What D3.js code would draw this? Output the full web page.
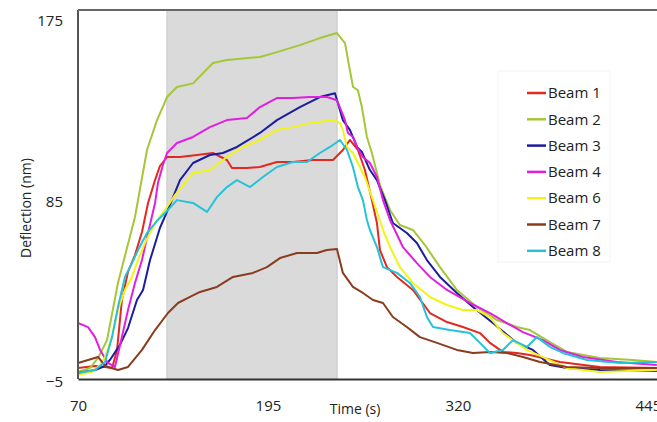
<!DOCTYPE html>
<html>
<head>
<meta charset="utf-8">
<script src="https://cdn.jsdelivr.net/npm/d3@7"></script>
<style>
  body { margin: 0; background: #fff; }
  svg { display: block; font-family: "Open Sans", sans-serif; }
</style>
</head>
<body>
<div id="chart"></div>
<script>
// Beam deflection over time, load window shaded
const beamNames = ["Beam 1", "Beam 2", "Beam 3", "Beam 4", "Beam 6", "Beam 7", "Beam 8"];
const beamColors = ["#e3291f", "#a6c63a", "#1d1b9e", "#e01fe0", "#f3f318", "#8a3c1e", "#26c2d8"];
const xTicks = [70, 195, 320, 445];
const yTicks = [-5, 85, 175];
const loadWindow = [128.5, 240.5];

// [time (s), deflection (nm)]
const beam1 = [[70,0.5],[81.2,1.5],[87.8,1],[92.4,0.5],[95.7,9.5],[98.9,34.4],[102.9,48.4],[107.5,56.8],[112.1,68.3],[116.1,82.8],[120.7,94.2],[123.9,101.2],[128.6,105.7],[137.1,105.7],[148.3,106.7],[158.8,107.7],[168,104.2],[171.3,100.2],[181.2,100.2],[189.7,100.7],[200.9,103.2],[211.4,103.2],[224.6,104.2],[237.8,104.2],[244.3,109.2],[248.9,114.2],[254.2,109.2],[258.8,99.2],[263.4,84.2],[266.7,72.8],[268.7,59.3],[273.3,50.8],[279.9,45.9],[290.4,39.4],[301.6,27.9],[312.8,23.4],[323.3,20.9],[334.5,17.9],[341.1,13],[349.6,8.5],[358.8,8],[367.4,7],[387.1,3.5],[413.4,1],[450.9,0.5]];
const beam2 = [[70,-1.5],[77.9,0.5],[83.2,5.5],[89.1,14.4],[96.3,42.9],[107.5,75.8],[115.4,109.2],[122,124.1],[128.6,135.6],[135.1,140.6],[145.7,142.4],[158.8,152.6],[168,154.1],[189.7,155.6],[200.9,158],[216,161.5],[229.2,165],[240.4,167.5],[245.7,162.5],[248.9,149],[251,140.6],[254.2,139],[256.8,130.6],[260.1,115.7],[263.4,107.7],[268.7,91.7],[275.3,79.3],[281.8,71.8],[290.4,69.3],[298.3,61.8],[308.2,50.8],[319.3,39.4],[332.5,30.9],[345.7,24.4],[358.8,20.9],[367.4,19.4],[380.5,13.4],[391.7,8.5],[413.4,5.5],[435.1,4.5],[450.9,3.5]];
const beam3 = [[70,-2],[81.2,-0.5],[87.8,1.5],[91,4.5],[97.6,12],[102.9,20.4],[108.8,34.4],[112.8,39.4],[117.4,54.3],[123.9,70.3],[130.5,81.8],[137.1,94.2],[145.7,102.7],[156.8,106.7],[165.4,107.7],[174.6,110.7],[189.7,117.7],[200.9,124.1],[216,130.6],[229.2,135.6],[239.1,137.5],[244.3,124.1],[248.9,119.2],[253.6,110.7],[256.8,108.2],[262.1,99.2],[266.7,94.2],[272,84.2],[277.2,72.8],[286.4,67.8],[293,62.8],[299.6,54.3],[308.2,45.9],[319.3,37.9],[329.9,30.9],[343,22.9],[358.8,13],[369.3,9.5],[380.5,2],[391.7,0.5],[413.4,-0.5],[450.9,-1]];
const beam4 = [[70,22.9],[76.6,20.9],[81.2,15.9],[84.5,9.5],[89.7,3],[94.3,1],[98.9,15.9],[102.9,29.4],[107.5,42.9],[112.1,54.3],[116.1,67.8],[120.7,82.8],[122.6,92.7],[125.9,101.7],[128.6,107.7],[135.1,112.7],[145.7,115.7],[156.8,120.6],[168,124.1],[181.2,125.1],[189.7,130.6],[200.9,135.1],[211.4,135.1],[222.6,135.6],[233.8,135.6],[240.4,134],[245.7,124.1],[247.6,117.7],[251,115.7],[253.6,110.7],[257.5,105.7],[262.1,102.7],[266.7,95.7],[270.7,84.2],[275.3,74.3],[283.8,60.8],[293,52.8],[301.6,45.9],[312.8,39.4],[327.9,32.9],[341.1,27.9],[352.2,22.9],[362.8,18.4],[375.9,14.4],[387.1,9.5],[402.2,6],[424.6,3.5],[450.9,2]];
const beam6 = [[70,-3],[79.2,-1.5],[84.5,2],[87.8,6],[92.4,15.9],[96.3,29.4],[100.9,39.4],[105.5,45.9],[109.5,54.3],[114.1,62.8],[120.7,72.8],[127.2,79.3],[133.8,86.7],[145.7,97.7],[156.8,99.2],[168,105.7],[178.6,110.7],[189.7,114.2],[200.9,119.2],[211.4,120.6],[222.6,122.6],[239.1,124.1],[242.4,122.6],[244.3,119.2],[247,110.7],[250.9,107.7],[254.2,102.7],[258.8,95.7],[264.1,84.2],[267.4,76.8],[270.7,69.3],[275.3,60.8],[281.8,50.8],[290.4,42.9],[301.6,35.9],[312.8,31.9],[323.3,29.4],[332.5,29.4],[341.1,25.9],[349.6,17.9],[358.8,13],[365.4,9.5],[374,6.5],[391.7,0.5],[413.4,-1.5],[450.9,-0.5]];
const beam7 = [[70,3],[76.6,4.5],[83.2,6],[87.8,1.5],[96.3,-0.5],[102.9,1],[112.1,9.5],[120.7,19.4],[129.2,27.9],[135.8,32.9],[143.7,35.9],[150.3,38.4],[161.4,40.9],[172,45.9],[185.1,47.9],[194.3,50.8],[202.9,55.3],[214.1,57.8],[227.2,57.8],[233.8,59.3],[240.4,59.8],[244.3,47.9],[250.9,40.9],[257.5,37.9],[264.1,34.4],[270.7,32.9],[277.2,25.9],[286.4,20.9],[295,15.9],[306.2,13],[319.3,9.5],[329.9,8],[341.1,8.5],[352.2,8],[362.8,6],[374,3.5],[391.7,1],[413.4,0.5],[450.9,0.5]];
const beam8 = [[70,-2],[81.2,-0.5],[87.8,3.5],[92.4,15.9],[96.3,30.9],[100.9,45.9],[105.5,52.8],[109.5,59.3],[115.4,67.8],[122.6,74.3],[129.2,79.3],[135.1,84.2],[145.7,82.8],[154.9,78.3],[161.4,85.7],[168,90.7],[174.6,94.2],[183.2,90.7],[191.7,95.7],[200.9,100.7],[211.4,103.2],[220.7,103.2],[229.2,107.7],[235.8,110.7],[242.4,114.2],[247,109.2],[250.9,100.7],[254.2,90.7],[257.5,84.2],[260.1,74.3],[262.1,69.3],[266.7,60.8],[270.7,50.8],[279.9,47.9],[288.4,42.9],[295,35.9],[299.6,25.9],[303.6,20.9],[314.7,19.4],[327.9,17.9],[334.5,13],[341.1,8],[349.6,9.5],[356.2,14.4],[365.4,11],[372,15.9],[380.5,11],[389.1,8],[404.9,4.5],[426.6,3],[450.9,3.5]];
const beamData = [beam1, beam2, beam3, beam4, beam6, beam7, beam8];

const width = 657;
const height = 422;
const margin = { top: 10, right: 0, bottom: 43, left: 78 };

const svg = d3.select("#chart")
  .append("svg")
  .attr("width", width)
  .attr("height", height);

const x = d3.scaleLinear()
  .domain([70, 451])
  .range([margin.left, width - margin.right]);

const y = d3.scaleLinear()
  .domain([-5, 179])
  .range([height - margin.bottom, margin.top]);

// shaded load window
svg.append("rect")
  .attr("x", x(loadWindow[0]))
  .attr("y", y(179))
  .attr("width", x(loadWindow[1]) - x(loadWindow[0]))
  .attr("height", y(-5) - y(179))
  .attr("fill", "#dadada")
  .attr("stroke", "#c8c8c8")
  .attr("stroke-width", 1);

// series
const line = d3.line()
  .x(d => x(d[0]))
  .y(d => y(d[1]))
  .curve(d3.curveLinear);

svg.selectAll(".beam")
  .data(beamData)
  .enter().append("path")
  .attr("class", "beam")
  .attr("d", line)
  .attr("fill", "none")
  .attr("stroke", (d, i) => beamColors[i])
  .attr("stroke-width", 2)
  .attr("stroke-linejoin", "round");

// frame: left, top, bottom
svg.append("line")
  .attr("x1", x(70)).attr("x2", x(70))
  .attr("y1", y(179)).attr("y2", y(-5))
  .attr("stroke", "#555").attr("stroke-width", 2);
svg.append("line")
  .attr("x1", x(70)).attr("x2", width)
  .attr("y1", y(179)).attr("y2", y(179))
  .attr("stroke", "#666").attr("stroke-width", 2);

const xAxis = d3.axisBottom(x)
  .tickValues(xTicks)
  .tickSize(0)
  .tickPadding(21);

const xg = svg.append("g")
  .attr("transform", `translate(0,${y(-5)})`)
  .call(xAxis);
xg.select(".domain").attr("stroke", "#333").attr("stroke-width", 2);
xg.selectAll("text")
  .style("font-size", "15px")
  .style("fill", "#222")
  .style("font-family", "Open Sans, sans-serif");

const yAxis = d3.axisLeft(y)
  .tickValues(yTicks)
  .tickSize(0)
  .tickPadding(15);

const yg = svg.append("g")
  .attr("transform", `translate(${x(70)},3)`)
  .call(yAxis);
yg.select(".domain").remove();
yg.selectAll("text")
  .style("font-size", "15px")
  .style("fill", "#222")
  .style("font-family", "Open Sans, sans-serif");

// axis titles
svg.append("text")
  .attr("x", 355)
  .attr("y", 414)
  .attr("text-anchor", "middle")
  .style("font-size", "14px")
  .style("fill", "#222")
  .text("Time (s)");

svg.append("text")
  .attr("transform", "translate(31,208) rotate(-90)")
  .attr("text-anchor", "middle")
  .style("font-size", "14px")
  .style("fill", "#222")
  .text("Deflection (nm)");

// legend
const legend = svg.append("g");
legend.append("rect")
  .attr("x", 498)
  .attr("y", 71)
  .attr("width", 112)
  .attr("height", 191)
  .attr("fill", "#fff")
  .attr("stroke", "#f3f3f3");

const items = legend.selectAll(".item")
  .data(beamNames)
  .enter().append("g")
  .attr("class", "item")
  .attr("transform", (d, i) => `translate(0,${93 + i * 26.3})`);

items.append("line")
  .attr("x1", 527).attr("x2", 546)
  .attr("y1", 0).attr("y2", 0)
  .attr("stroke", (d, i) => beamColors[i])
  .attr("stroke-width", 2.5);

items.append("text")
  .attr("x", 548)
  .attr("dy", "0.35em")
  .style("font-size", "15px")
  .style("fill", "#222")
  .text(d => d);
</script>
</body>
</html>
